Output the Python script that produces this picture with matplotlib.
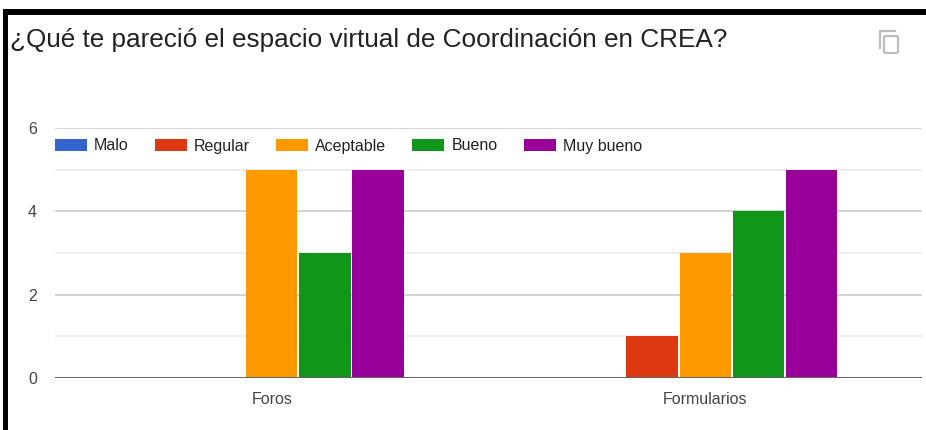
import matplotlib.pyplot as plt
import numpy as np
from matplotlib.patches import Rectangle, FancyBboxPatch
from matplotlib.lines import Line2D

# datos
categorias = ['Foros', 'Formularios']
series = ['Malo', 'Regular', 'Aceptable', 'Bueno', 'Muy bueno']
malo = [0, 0]
regular = [0, 1]
aceptable = [5, 3]
bueno = [3, 4]
muy_bueno = [5, 5]
colores = ['#3366cc', '#dc3912', '#ff9900', '#109618', '#990099']
titulo = '¿Qué te pareció el espacio virtual de Coordinación en CREA?'

plt.rcParams['font.family'] = ['Liberation Sans', 'DejaVu Sans']

W, H = 926, 430
fig = plt.figure(figsize=(W / 100, H / 100), dpi=100)
fig.patch.set_facecolor('white')

# marco negro (arriba e izquierda)
fig.add_artist(Rectangle((3 / W, 0), 5 / W, 1 - 9 / H, transform=fig.transFigure,
                         facecolor='black', edgecolor='none'))
fig.add_artist(Rectangle((3 / W, 1 - 15 / H), 1, 6 / H, transform=fig.transFigure,
                         facecolor='black', edgecolor='none'))

fig.text(10 / W, 1 - 40 / H, titulo, fontsize=18.8, color='#222222', va='center', ha='left')

# icono de copiar
gris = '#bdbdbd'
fig.add_artist(FancyBboxPatch((884 / W, 1 - 53 / H), 14 / W, 17 / H,
                              boxstyle='round,pad=0,rounding_size=0.003',
                              transform=fig.transFigure, facecolor='white',
                              edgecolor=gris, linewidth=1.6))
fig.add_artist(Line2D([880 / W, 880 / W, 895 / W], [1 - 48 / H, 1 - 31 / H, 1 - 31 / H],
                      transform=fig.transFigure, color=gris, linewidth=1.6))

ax = fig.add_axes([55 / W, 1 - 378 / H, (922 - 55) / W, 250 / H])
valores = [malo, regular, aceptable, bueno, muy_bueno]
x = np.arange(len(categorias))
ancho = 0.1225
for i, (nombre, vals) in enumerate(zip(series, valores)):
    ax.bar(x + (i - 2) * ancho, vals, width=ancho - 0.004, color=colores[i],
           label=nombre, zorder=3)

ax.set_xlim(-0.5, 1.5)
ax.set_ylim(0, 6)
ax.set_yticks([0, 2, 4, 6])
ax.set_yticks([1, 3, 5], minor=True)
ax.grid(axis='y', which='major', color='#cccccc', linewidth=1.2, zorder=0)
ax.grid(axis='y', which='minor', color='#ebebeb', linewidth=1.2, zorder=0)
ax.axhline(0, color='#666666', linewidth=2.2, zorder=4)
for s in ax.spines.values():
    s.set_visible(False)
ax.tick_params(axis='both', which='both', length=0, labelsize=11.5, labelcolor='#444444')
ax.tick_params(axis='y', pad=13)
ax.tick_params(axis='x', pad=10)
ax.set_xticks(x)
ax.set_xticklabels(categorias)

ax.legend(loc='center left', bbox_to_anchor=(0, 1 - 18 / 250), ncol=5, frameon=False,
          fontsize=11.5, handlelength=2.0, handleheight=0.85, handletextpad=0.45,
          columnspacing=1.63, borderaxespad=0, borderpad=0, labelcolor='#222222')

fig.savefig('out.png', dpi=100, facecolor='white')
